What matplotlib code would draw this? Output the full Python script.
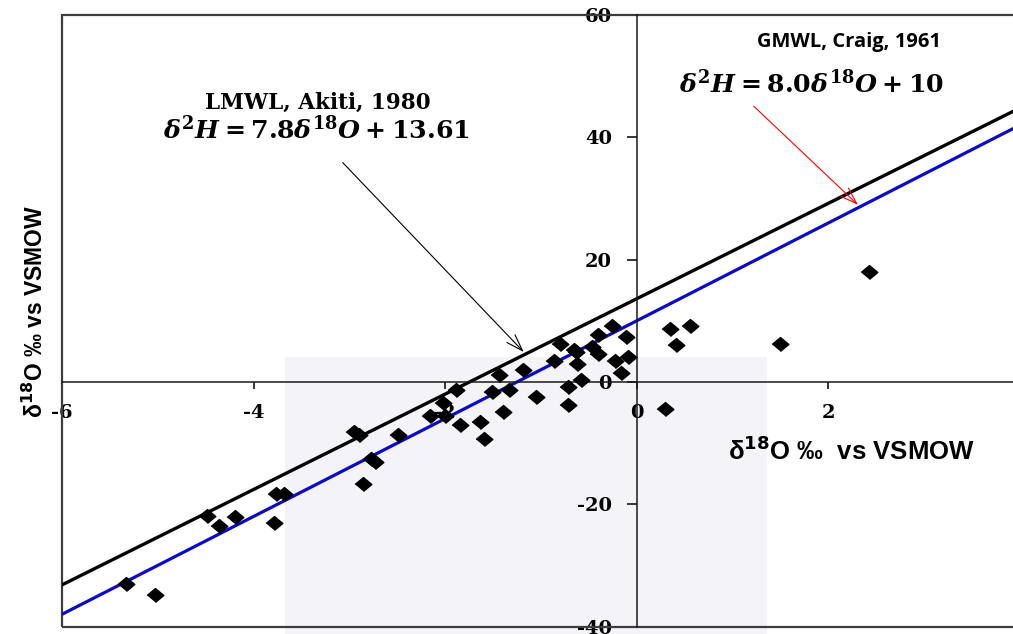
import numpy as np
import matplotlib
matplotlib.use("Agg")
import matplotlib.pyplot as plt
from matplotlib.patches import Rectangle

# isotope samples: delta 18O and delta 2H (per mil vs VSMOW)
d18O = [-5.33, -5.03, -4.49, -4.36, -4.19, -3.79, -3.77, -3.68,
        -2.95, -2.90, -2.77, -2.73, -2.86, -2.49, -2.16, -2.00, -2.02,
        -1.89, -1.85, -1.64, -1.60, -1.51, -1.44, -1.40, -1.33, -1.19, -1.05,
        -0.86, -0.80, -0.72, -0.72, -0.66, -0.63, -0.62, -0.58, -0.47, -0.40,
        -0.40, -0.26, -0.23, -0.16, -0.09, -0.11,
        0.35, 0.41, 0.56, 0.29, 1.49, 2.42]
d2H = [-33.1, -34.9, -22.0, -23.5, -22.1, -23.0, -18.3, -18.3,
       -8.2, -8.6, -12.6, -13.1, -16.7, -8.6, -5.6, -5.6, -3.5,
       -1.3, -7.1, -6.6, -9.3, -1.6, 1.1, -5.0, -1.4, 2.0, -2.4,
       3.5, 6.2, -0.9, -3.8, 5.2, 4.9, 3.0, 0.3, 5.7, 7.6,
       4.6, 9.1, 3.5, 1.4, 4.0, 7.3,
       8.7, 6.0, 9.1, -4.4, 6.2, 18.0]

# meteoric water lines: slope, intercept
lmwl = (7.8, 13.61)   # local, Akiti 1980
gmwl = (8.0, 10.0)    # global, Craig 1961

x_ticks = [-6, -4, -2, 0, 2, 4]
y_ticks = [-40, -20, 0, 20, 40, 60]

plt.rcParams['axes.unicode_minus'] = False
plt.rcParams['mathtext.fontset'] = 'custom'
plt.rcParams['mathtext.rm'] = 'DejaVu Serif:bold'
plt.rcParams['mathtext.it'] = 'DejaVu Serif:italic:bold'
plt.rcParams['mathtext.bf'] = 'DejaVu Serif:bold'

fig = plt.figure(figsize=(10.13, 6.34), dpi=100)
ax = fig.add_axes([0.0612, 0.0118, 0.9457, 0.9645])
ax.set_facecolor('none')

# faint background block behind the lower middle of the plot
fig.patches.append(Rectangle((285 / 1013, 0), (767 - 285) / 1013, (634 - 357) / 634,
                             transform=fig.transFigure, facecolor='#f3f3f8',
                             edgecolor='none', zorder=-5))

xs = np.array([-6.5, 4.5])
ax.plot(xs, lmwl[0] * xs + lmwl[1], color='black', lw=2.4, zorder=2)
ax.plot(xs, gmwl[0] * xs + gmwl[1], color='#0a0ac8', lw=2.3, zorder=2)

diamond = [(-1.2, 0), (0, 1), (1.2, 0), (0, -1)]
ax.plot(d18O, d2H, linestyle='none', marker=diamond, markersize=12,
        color='black', zorder=4)

ax.set_xlim(-6, 4)
ax.set_ylim(-40, 60)
ax.set_xticks(x_ticks)
ax.set_yticks(y_ticks)

# axes cross at the origin, with a box round the plot area
for side in ['top', 'right']:
    ax.spines[side].set_visible(False)
ax.spines['left'].set_position(('data', 0))
ax.spines['bottom'].set_position(('data', 0))
for side in ['left', 'bottom']:
    ax.spines[side].set_linewidth(1.1)
    ax.spines[side].set_color('#1a1a1a')
ax.add_patch(Rectangle((0, 0), 1, 1, transform=ax.transAxes, fill=False,
                       edgecolor='#3c3c3c', lw=1.6, clip_on=False, zorder=1))
ax.set_axisbelow(True)

ax.tick_params(axis='x', direction='out', length=5, width=1.1, pad=11)
ax.tick_params(axis='y', direction='out', length=7, width=1.1, pad=11)
for lab in ax.get_xticklabels() + ax.get_yticklabels():
    lab.set_fontfamily('DejaVu Serif')
    lab.set_fontweight('bold')
    lab.set_fontsize(14)

sans = ['Liberation Sans', 'DejaVu Sans']
ax.set_xlabel('δ$^{\\mathbf{18}}$O ‰  vs VSMOW', fontsize=18.5, fontweight='bold',
              family=sans, math_fontfamily='dejavusans')
ax.xaxis.set_label_coords(0.8236, 0.287)
ax.xaxis.label.set_va('center')
ax.set_ylabel('δ$^{\\mathbf{18}}$O ‰ vs VSMOW', fontsize=16.5, fontweight='bold',
              family=sans, math_fontfamily='dejavusans')
ax.yaxis.set_label_coords(-0.028, 0.516)
ax.yaxis.label.set_va('center')

# line annotations
ax.text(-3.33, 45.6, 'LMWL, Akiti, 1980', ha='center', va='center',
        fontsize=15.5, fontweight='bold', family='DejaVu Serif')
ax.text(-3.34, 41.3, r'$\delta^2 H = 7.8\delta^{18}O + 13.61$', ha='center',
        va='center', fontsize=18.2, math_fontfamily='custom')
ax.annotate('', xy=(-1.16, lmwl[0] * -1.16 + lmwl[1]), xytext=(-3.09, 36.2),
            arrowprops=dict(arrowstyle='->,head_length=1.2,head_width=0.4',
                            color='black', lw=0.8))

ax.text(2.22, 55.6, 'GMWL, Craig, 1961', ha='center', va='center',
        fontsize=14.5, fontweight='bold', family=['Open Sans', 'DejaVu Sans'])
ax.text(1.82, 48.9, r'$\delta^2 H = 8.0\delta^{18}O + 10$', ha='center',
        va='center', fontsize=18.2, math_fontfamily='custom')
ax.annotate('', xy=(2.33, gmwl[0] * 2.33 + gmwl[1]), xytext=(1.20, 45.4),
            arrowprops=dict(arrowstyle='->,head_length=1.2,head_width=0.4',
                            color='red', lw=0.8))

fig.savefig('out.png', dpi=100)
